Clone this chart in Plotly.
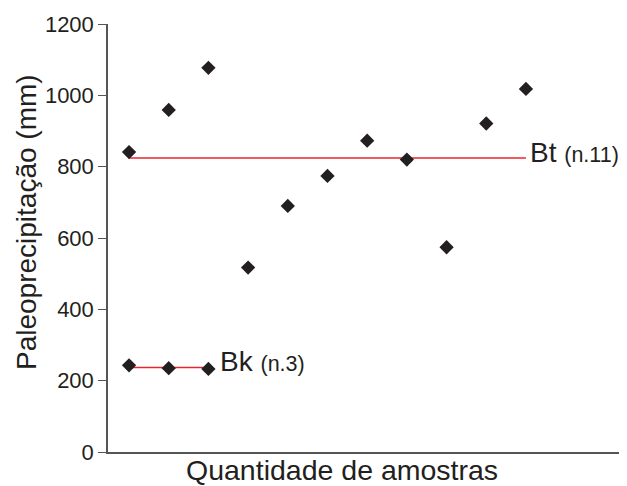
import plotly.graph_objects as go

# Data
bt_x = [1, 2, 3, 4, 5, 6, 7, 8, 9, 10, 11]
bt_y = [841, 959, 1077, 517, 690, 774, 873, 820, 574, 921, 1018]
bk_x = [1, 2, 3]
bk_y = [243, 235, 233]
bt_mean = 824
bk_mean = 237
y_ticks = [0, 200, 400, 600, 800, 1000, 1200]

FONT = "Liberation Sans, Arial, sans-serif"
TXT = "#231f20"
RED = "#e8262e"

# page body has an 8px margin, so the figure is placed at (8, 8)
OFF = 8
W, H = 627 - OFF, 486 - OFF
PL, PR, PT, PB = 108, 622, 24, 452  # target plot box in window pixels
L, T = PL - OFF, PT - OFF
R, B = W - (PR - OFF), H - (PB - OFF)
pw, ph = PR - PL, PB - PT

def px_to_paper(xp, yp):
    return (xp - PL) / pw, (PB - yp) / ph

fig = go.Figure()

# mean lines
fig.add_trace(go.Scatter(x=[bt_x[0], bt_x[-1]], y=[bt_mean, bt_mean], mode="lines",
                         line=dict(color=RED, width=1.5), hoverinfo="skip", showlegend=False))
fig.add_trace(go.Scatter(x=[bk_x[0], bk_x[-1]], y=[bk_mean, bk_mean], mode="lines",
                         line=dict(color=RED, width=1.5), hoverinfo="skip", showlegend=False))

# points
fig.add_trace(go.Scatter(x=bt_x, y=bt_y, mode="markers",
                         marker=dict(symbol="diamond", size=11, color=TXT), showlegend=False))
fig.add_trace(go.Scatter(x=bk_x, y=bk_y, mode="markers",
                         marker=dict(symbol="diamond", size=11, color=TXT), showlegend=False))

fig.add_annotation(x=bt_x[-1], y=bt_mean, xref="x", yref="y", xanchor="left", yanchor="middle",
                   xshift=2, yshift=6, showarrow=False,
                   text="Bt <span style='font-size:21.5px'>(n.11)</span>",
                   font=dict(family=FONT, size=28, color=TXT))
fig.add_annotation(x=bk_x[-1], y=bk_mean, xref="x", yref="y", xanchor="left", yanchor="middle",
                   xshift=10, yshift=6, showarrow=False,
                   text="Bk <span style='font-size:21.5px'>(n.3)</span>",
                   font=dict(family=FONT, size=28, color=TXT))

# axis titles
xt, yt = px_to_paper(342, 470)
fig.add_annotation(x=xt, y=yt, xref="paper", yref="paper", xanchor="center", yanchor="middle",
                   showarrow=False, borderpad=0, text="Quantidade de amostras",
                   font=dict(family=FONT, size=28.5, color=TXT))
xt, yt = px_to_paper(26, 222)
fig.add_annotation(x=xt, y=yt, xref="paper", yref="paper", xanchor="center", yanchor="middle",
                   showarrow=False, borderpad=0, textangle=-90, text="Paleoprecipitação (mm)",
                   font=dict(family=FONT, size=28, color=TXT))

fig.update_layout(
    width=W, height=H,
    margin=dict(l=L, r=R, t=T, b=B, autoexpand=False),
    paper_bgcolor="white", plot_bgcolor="white",
    font=dict(family=FONT, color=TXT),
)
fig.update_xaxes(range=[0.47, 13.42], showticklabels=False, ticks="", showgrid=False,
                 zeroline=False, showline=True, linecolor="#555555", linewidth=1.5)
fig.update_yaxes(range=[0, 1200], tickvals=y_ticks, ticks="outside", ticklen=8, tickwidth=1.2,
                 tickcolor="#555555", showgrid=False, zeroline=False, showline=True,
                 linecolor="#555555", linewidth=1.5, tickfont=dict(family=FONT, size=22, color=TXT))

fig.write_html("out.html")
